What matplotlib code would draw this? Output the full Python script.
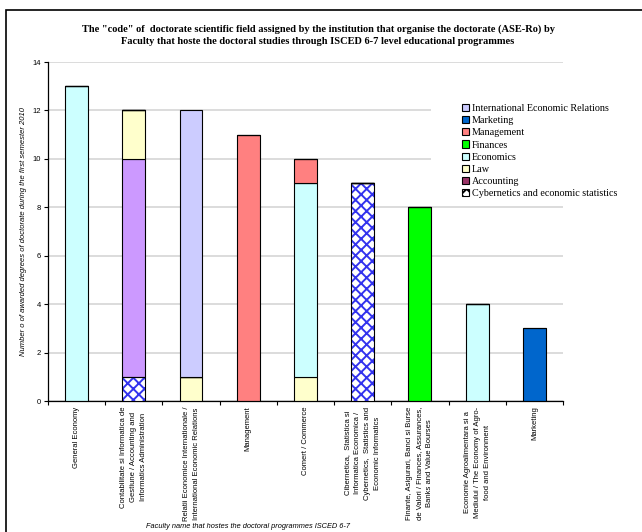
import matplotlib
matplotlib.use("Agg")
import matplotlib.pyplot as plt
from matplotlib.patches import Rectangle, Patch
import numpy as np

plt.rcParams['hatch.linewidth'] = 1.4

categories = [
    "General Economy",
    "Contabilitate si Informatica de\nGestiune / Accounting and\nInformatics Administration",
    "Relatii Economice Internationale /\nInternational Economic Relations",
    "Management",
    "Comert / Commerce",
    "Cibernetica,  Statistica si\nInformatica Economica /\nCybernetics,  Statistics and\nEconomic Informatics",
    "Finante, Asigurari, Banci si Burse\nde Valori / Finances, Assurances,\nBanks and Value Bourses",
    "Economie Agroalimentara si a\nMediului / The Economy of Agro-\nfood and Environment",
    "Marketing",
]

# series, bottom to top
series_names = ["Cybernetics and economic statistics", "Accounting", "Law", "Economics",
                "Finances", "Management", "Marketing", "International Economic Relations"]
cybernetics = [0, 1, 0, 0, 0, 9, 0, 0, 0]
accounting  = [0, 9, 0, 0, 0, 0, 0, 0, 0]
law         = [0, 2, 1, 0, 1, 0, 0, 0, 0]
economics   = [13, 0, 0, 0, 8, 0, 0, 4, 0]
finances    = [0, 0, 0, 0, 0, 0, 8, 0, 0]
management  = [0, 0, 0, 11, 1, 0, 0, 0, 0]
marketing   = [0, 0, 0, 0, 0, 0, 0, 0, 3]
intl_rel    = [0, 0, 11, 0, 0, 0, 0, 0, 0]
series_values = [cybernetics, accounting, law, economics, finances, management, marketing, intl_rel]

bar_colors = ["white", "#CC99FF", "#FFFFCC", "#CCFFFF", "#00FF00", "#FF8080", "#0066CC", "#CCCCFF"]
legend_colors = ["white", "#993366", "#FFFFCC", "#CCFFFF", "#00FF00", "#FF8080", "#0066CC", "#CCCCFF"]

y_ticks = [0, 2, 4, 6, 8, 10, 12, 14]

W, H = 642, 532
fig = plt.figure(figsize=(W / 100, H / 100), dpi=100)
ax = fig.add_axes([48 / W, 1 - 401 / H, (563 - 48) / W, (401 - 62) / H])

x = np.arange(len(categories))
bottom = np.zeros(len(categories))
width = 0.4
for name, vals, col in zip(series_names, series_values, bar_colors):
    vals = np.array(vals, dtype=float)
    if name.startswith("Cybernetics"):
        ax.bar(x, vals, width, bottom=bottom, color="white", edgecolor="#3333EE",
               hatch="xxx", linewidth=0, zorder=3)
        ax.bar(x, vals, width, bottom=bottom, color="none", edgecolor="black",
               linewidth=0.8, zorder=4)
    else:
        ax.bar(x, vals, width, bottom=bottom, color=col, edgecolor="black",
               linewidth=0.8, zorder=3)
    bottom += vals

ax.set_xlim(-0.5, len(categories) - 0.5)
ax.set_ylim(0, 14)
ax.set_yticks(y_ticks)
ax.set_yticklabels([str(v) for v in y_ticks], fontsize=5.5, family="Liberation Sans")
ax.yaxis.grid(True, color="#D9D9D9", linewidth=1.3, zorder=0)
ax.set_axisbelow(True)

ax.set_xticks(x)
ax.set_xticklabels(categories, rotation=90, fontsize=5.5, family="Liberation Sans",
                   ha="center", va="top", multialignment="center", linespacing=1.6)
ax.tick_params(axis="x", which="major", length=0, pad=4)
ax.set_xticks(np.arange(-0.5, len(categories), 1.0), minor=True)
ax.tick_params(axis="x", which="minor", length=3, width=0.8, direction="out")
ax.tick_params(axis="y", length=3, width=0.8, direction="out", pad=2)

for s in ["top", "right"]:
    ax.spines[s].set_visible(False)
for s in ["left", "bottom"]:
    ax.spines[s].set_linewidth(0.9)

# white background behind legend
fig.patches.append(Rectangle((431 / W, 1 - 202 / H), (600 - 431) / W, (202 - 100) / H,
                             transform=fig.transFigure, facecolor="white", edgecolor="none",
                             zorder=5))

handles = [Patch(facecolor=c, edgecolor="black", linewidth=0.8,
                 hatch=("xxx" if n.startswith("Cyb") else None))
           for n, c in zip(series_names, legend_colors)]
leg = fig.legend(handles[::-1], series_names[::-1], loc="upper left",
                 bbox_to_anchor=(462 / W, 1 - 104 / H), frameon=False,
                 prop={"family": "Liberation Serif", "size": 7.3},
                 handlelength=0.7, handleheight=0.7, handletextpad=0.3,
                 labelspacing=0.3, borderpad=0, borderaxespad=0)
leg.set_zorder(6)

fig.text(318 / W, 1 - 29 / H,
         'The "code" of  doctorate scientific field assigned by the institution that organise the doctorate (ASE-Ro) by',
         ha="center", va="center", fontsize=7.5, fontweight="bold", family="Liberation Serif")
fig.text(318 / W, 1 - 41 / H,
         'Faculty that hoste the doctoral studies through ISCED 6-7 level educational programmes',
         ha="center", va="center", fontsize=7.5, fontweight="bold", family="Liberation Serif")

fig.text(24 / W, 1 - 232 / H,
         "Number o of awarded degrees of doctorate during the first semester 2010",
         rotation=90, ha="center", va="center", fontsize=5.5, style="italic",
         family="Liberation Sans")
fig.text(248 / W, 1 - 527 / H,
         "Faculty name that hostes the doctoral programmes ISCED 6-7",
         ha="center", va="center", fontsize=5.3, style="italic", family="Liberation Sans")

# outer frame
fig.patches.append(Rectangle((6 / W, -0.05), 1.1, 1 - 10 / H + 0.05,
                             transform=fig.transFigure, facecolor="none",
                             edgecolor="black", linewidth=1.2, zorder=10))

fig.savefig("out.png", dpi=100)
